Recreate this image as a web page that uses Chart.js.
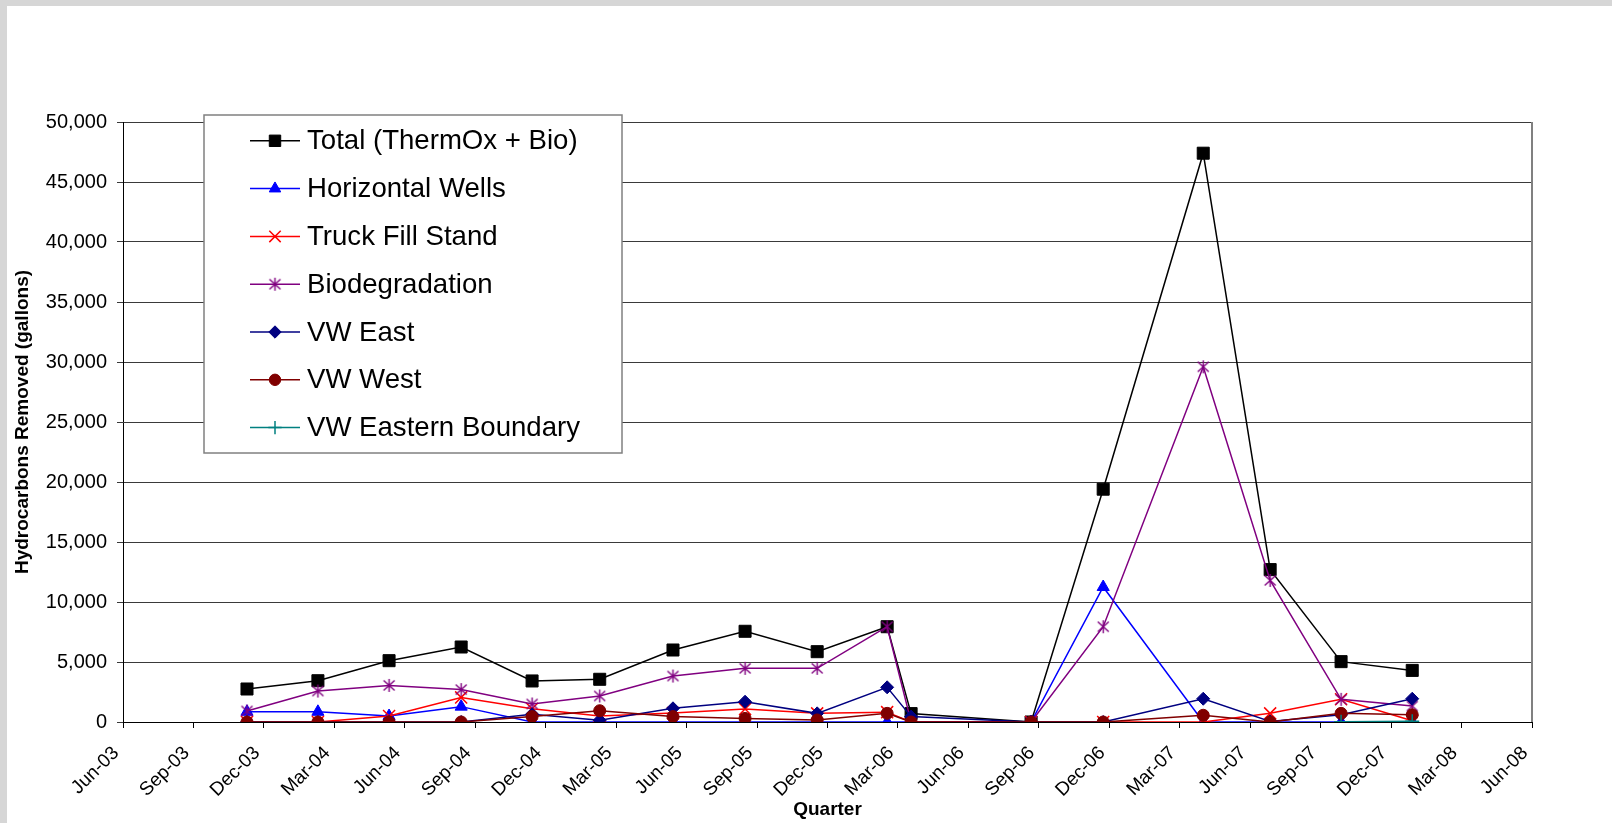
<!DOCTYPE html>
<html>
<head>
<meta charset="utf-8">
<script src="https://cdn.jsdelivr.net/npm/chart.js@4.4.1/dist/chart.umd.min.js"></script>
<style>
  html, body { margin: 0; padding: 0; background: #fff; }
</style>
</head>
<body>
<canvas id="hcChart" width="1612" height="823"></canvas>
<script>
// months after Jun 2003 at which each quarterly sample was taken
const sampleMonths = [5.28, 8.3, 11.33, 14.4, 17.42, 20.3, 23.42, 26.49, 29.56, 32.54, 33.56, 38.67, 41.74, 46.0, 48.85, 51.87, 54.9];

const tickLabels = ["Jun-03", "Sep-03", "Dec-03", "Mar-04", "Jun-04", "Sep-04", "Dec-04", "Mar-05", "Jun-05", "Sep-05", "Dec-05",
    "Mar-06", "Jun-06", "Sep-06", "Dec-06", "Mar-07", "Jun-07", "Sep-07", "Dec-07", "Mar-08", "Jun-08"];

const totalThermOxBio = [2750, 3440, 5110, 6250, 3420, 3560, 6000, 7560, 5860, 7940, 700, 0, 19400, 47400, 12700, 5030, 4300];
const horizontalWells = [850, 850, 500, 1280, 0, 0, 0, 0, 0, 0, 0, 0, 11250, 0, 0, 0, 0];
const truckFillStand = [0, 0, 500, 2050, 1100, 500, 750, 1080, 720, 820, 0, 0, 0, 0, 720, 1890, 100];
const biodegradation = [920, 2580, 3050, 2700, 1500, 2170, 3830, 4470, 4470, 7940, 0, 0, 7940, 29600, 11800, 1890, 1330];
const vwEast = [0, 0, 0, 0, 650, 150, 1140, 1690, 720, 2890, 450, 0, 0, 1940, 50, 600, 1940];
const vwWest = [0, 0, 0, 0, 450, 940, 450, 300, 170, 720, 0, 0, 0, 560, 0, 720, 600];
const vwEasternBoundary = [null, null, null, null, null, null, null, null, null, null, null, null, null, null, null, 30, 60];

const FONT = "'Liberation Sans', Arial, sans-serif";

function toPoints(values) {
    return sampleMonths.map((m, i) => ({ x: m, y: values[i] }));
}

// excel style asterisk marker
function makeAsterisk(color) {
    const c = document.createElement("canvas");
    c.width = 15;
    c.height = 15;
    const g = c.getContext("2d");
    g.strokeStyle = color;
    g.lineWidth = 1.4;
    g.beginPath();
    g.moveTo(7.5, 1);
    g.lineTo(7.5, 14);
    g.moveTo(2, 2.5);
    g.lineTo(13, 12.5);
    g.moveTo(13, 2.5);
    g.lineTo(2, 12.5);
    g.stroke();
    return c;
}

function series(label, values, color, style, radius, extra) {
    return Object.assign({
        label: label,
        data: toPoints(values),
        borderColor: color,
        backgroundColor: color,
        borderWidth: 1.5,
        tension: 0,
        pointStyle: style,
        pointRadius: radius,
        pointBackgroundColor: color,
        pointBorderColor: color,
        pointBorderWidth: 1,
    }, extra || {});
}

const datasets = [
    series("Total (ThermOx + Bio)", totalThermOxBio, "#000000", "rect", 8.5),
    series("Horizontal Wells", horizontalWells, "#0000ff", "triangle", 7),
    series("Truck Fill Stand", truckFillStand, "#ff0000", "crossRot", 8.5, { pointBorderWidth: 1.5 }),
    series("Biodegradation", biodegradation, "#800080", makeAsterisk("#800080"), 7.5),
    series("VW East", vwEast, "#000080", "rectRot", 6.5),
    series("VW West", vwWest, "#800000", "circle", 6),
    series("VW Eastern Boundary", vwEasternBoundary, "#008080", "cross", 7, { pointBorderWidth: 1.5 }),
];
// later series sit on top, like the spreadsheet
datasets.forEach((ds, i) => { ds.order = datasets.length - i; });

const pageBackground = {
    id: "pageBackground",
    beforeDraw(chart) {
        const ctx = chart.ctx;
        ctx.save();
        ctx.fillStyle = "#d6d6d6";
        ctx.fillRect(0, 0, chart.width, chart.height);
        ctx.fillStyle = "#ffffff";
        ctx.fillRect(7, 6, chart.width - 7, chart.height - 6);
        ctx.restore();
    },
    beforeDatasetsDraw(chart) {
        const a = chart.chartArea;
        const ctx = chart.ctx;
        ctx.save();
        ctx.strokeStyle = "#808080";
        ctx.lineWidth = 2;
        ctx.beginPath();
        ctx.moveTo(a.right, a.top);
        ctx.lineTo(a.right, a.bottom);
        ctx.stroke();
        ctx.restore();
    },
};

// boxed legend inside the plot, drawn over the lines
const legendBox = {
    id: "legendBox",
    afterDraw(chart) {
        const ctx = chart.ctx;
        ctx.save();
        ctx.fillStyle = "#ffffff";
        ctx.fillRect(204, 115, 418, 338);
        ctx.strokeStyle = "#808080";
        ctx.lineWidth = 1.5;
        ctx.strokeRect(204, 115, 418, 338);
        chart.data.datasets.forEach((ds, i) => {
            const y = 140.8 + i * 47.8;
            ctx.strokeStyle = ds.borderColor;
            ctx.lineWidth = ds.borderWidth;
            ctx.beginPath();
            ctx.moveTo(250, y);
            ctx.lineTo(300, y);
            ctx.stroke();
            ctx.fillStyle = ds.pointBackgroundColor;
            ctx.strokeStyle = ds.pointBorderColor;
            ctx.lineWidth = ds.pointBorderWidth;
            Chart.helpers.drawPoint(ctx, {
                pointStyle: ds.pointStyle,
                radius: ds.pointRadius * 0.95,
                rotation: 0,
                borderWidth: ds.pointBorderWidth,
            }, 275, y);
            ctx.fillStyle = "#000000";
            ctx.font = "27.6px " + FONT;
            ctx.textBaseline = "middle";
            ctx.textAlign = "left";
            ctx.fillText(ds.label, 307, y + 1);
        });
        ctx.restore();
    },
};

new Chart(document.getElementById("hcChart"), {
    type: "line",
    data: { datasets: datasets },
    options: {
        responsive: false,
        animation: false,
        layout: { padding: { left: 0, right: 80, top: 122, bottom: 0 } },
        plugins: {
            legend: { display: false },
            tooltip: { enabled: false },
        },
        scales: {
            x: {
                type: "linear",
                min: 0,
                max: 60,
                afterFit: (scale) => { scale.height = 101; },
                ticks: {
                    stepSize: 3,
                    autoSkip: false,
                    minRotation: 45,
                    maxRotation: 45,
                    padding: 14,
                    labelOffset: -7,
                    color: "#000",
                    font: { family: FONT, size: 19 },
                    callback: (v) => tickLabels[Math.round(v / 3)],
                },
                grid: { drawOnChartArea: false, drawTicks: true, tickLength: 6, color: "#000" },
                border: { color: "#000", width: 1 },
                title: {
                    display: true,
                    text: "Quarter",
                    color: "#000",
                    font: { family: FONT, size: 19, weight: "bold", lineHeight: 1.2 },
                    padding: { top: 0, bottom: 2 },
                },
            },
            y: {
                min: 0,
                max: 50000,
                afterFit: (scale) => { scale.width = 123; },
                ticks: {
                    stepSize: 5000,
                    padding: 10,
                    color: "#000",
                    font: { family: FONT, size: 20 },
                    callback: (v) => v.toLocaleString("en-US"),
                },
                grid: { color: "#3a3a3a", tickLength: 6 },
                border: { color: "#000", width: 1 },
                title: {
                    display: true,
                    text: "Hydrocarbons Removed (gallons)",
                    color: "#000",
                    font: { family: FONT, size: 19, weight: "bold", lineHeight: 1.2 },
                    padding: { top: 11, bottom: 0 },
                },
            },
        },
    },
    plugins: [pageBackground, legendBox],
});
</script>
</body>
</html>
